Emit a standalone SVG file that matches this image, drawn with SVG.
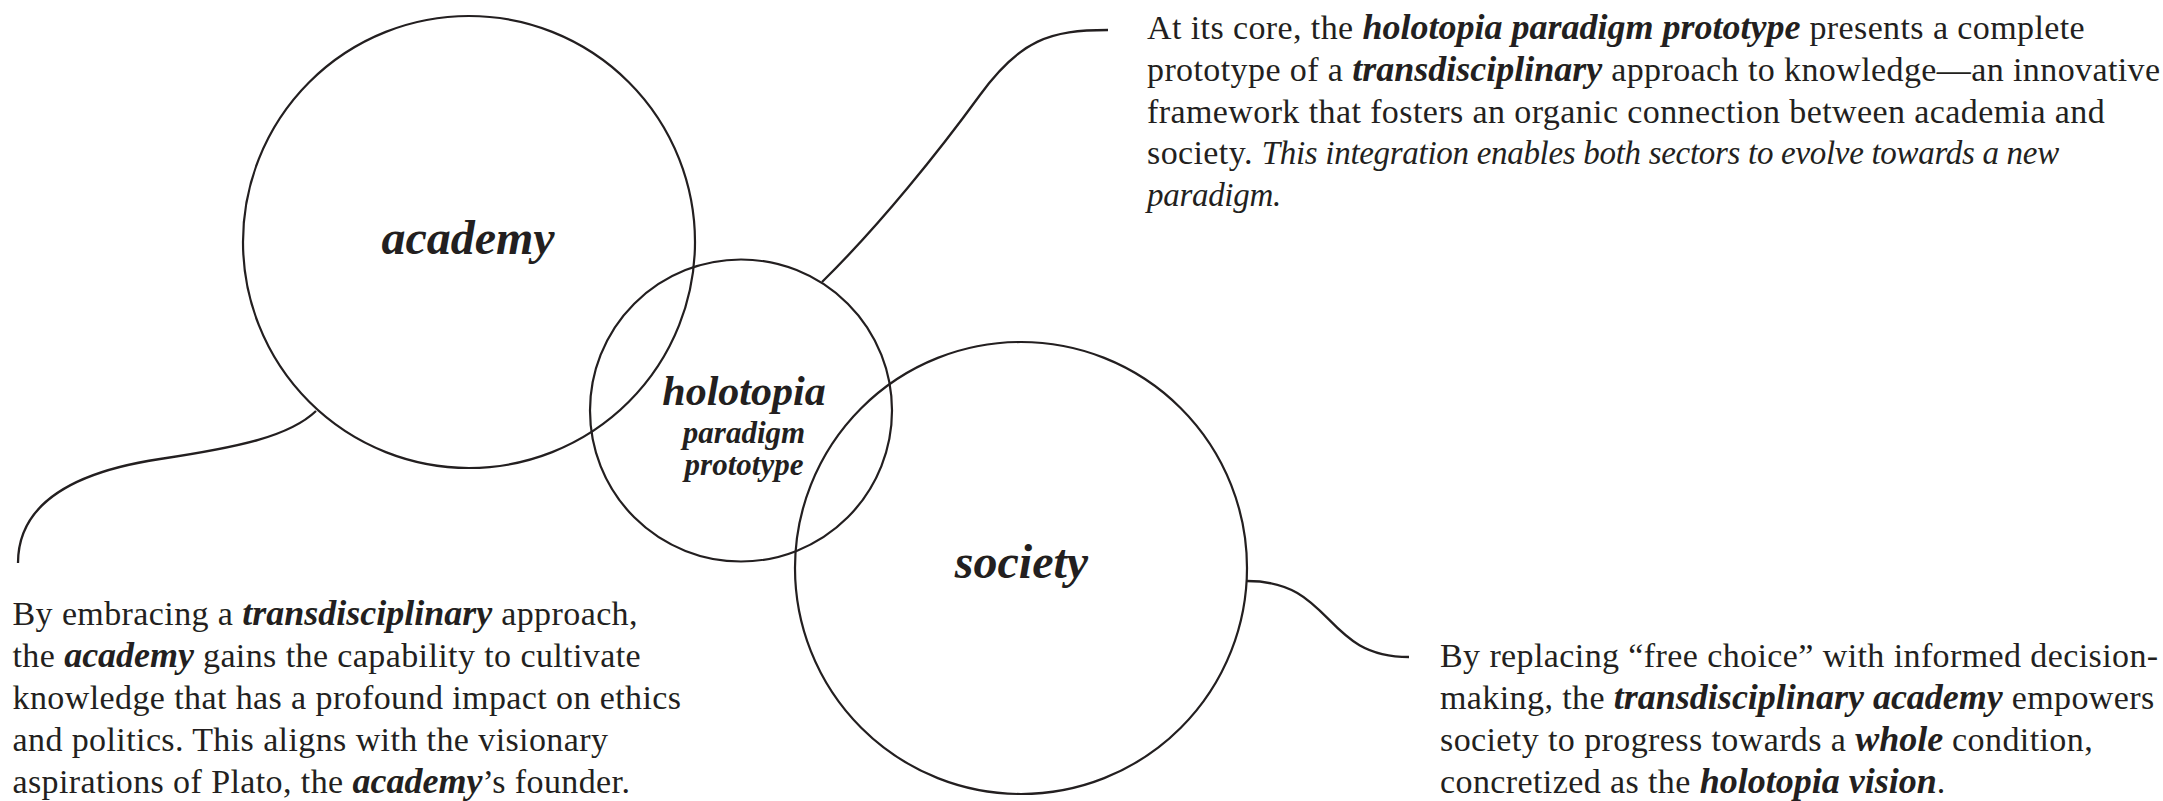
<svg xmlns="http://www.w3.org/2000/svg" width="2163" height="801" viewBox="0 0 2163 801">
  <style>
    .circle { fill: none; stroke: #231f20; stroke-width: 2.2; }
    .conn { fill: none; stroke: #231f20; stroke-width: 2.3; stroke-linecap: butt; }
    .label { font-family: "Liberation Serif", "Times New Roman", serif; font-weight: bold; font-style: italic; fill: #231f20; text-anchor: middle; }
    .body { font-family: "Liberation Serif", "Times New Roman", serif; font-size: 34px; letter-spacing: 0.4px; fill: #231f20; }
    .bi { font-weight: bold; font-style: italic; font-size: 36px; letter-spacing: 0px; }
    .it { font-style: italic; font-size: 33px; letter-spacing: -0.3px; }
  </style>
  <rect x="0" y="0" width="2163" height="801" fill="#ffffff"/>

  <g id="connectors">
    <path class="conn" d="M316,411 C290,436 240,447 160,459 C80,471 18,500 18,563"/>
    <path class="conn" d="M822,282 C880,225 940,150 980,95 C1020,40 1050,30 1108,30"/>
    <path class="conn" d="M1247,581 C1335,581 1322,657 1409,657"/>
  </g>

  <g id="node-academy">
    <circle class="circle" cx="469" cy="242" r="226"/>
    <text class="label" x="468" y="254" font-size="48">academy</text>
  </g>

  <g id="node-holotopia">
    <circle class="circle" cx="741" cy="410.5" r="151"/>
    <text class="label" x="744" y="405" font-size="42">holotopia</text>
    <text class="label" x="744" y="443" font-size="31">paradigm</text>
    <text class="label" x="744" y="474.5" font-size="31">prototype</text>
  </g>

  <g id="node-society">
    <circle class="circle" cx="1021" cy="568" r="226"/>
    <text class="label" x="1021.5" y="577.5" font-size="48">society</text>
  </g>

  <g id="text-holotopia">
    <text class="body" x="1147" y="39">At its core, the <tspan class="bi">holotopia paradigm prototype</tspan> presents a complete</text>
    <text class="body" x="1147" y="81">prototype of a <tspan class="bi">transdisciplinary</tspan> approach to knowledge—an innovative</text>
    <text class="body" x="1147" y="122.5">framework that fosters an organic connection between academia and</text>
    <text class="body" x="1147" y="164">society. <tspan class="it">This integration enables both sectors to evolve towards a new</tspan></text>
    <text class="body" x="1147" y="206"><tspan class="it">paradigm.</tspan></text>
  </g>

  <g id="text-academy">
    <text class="body" x="12.5" y="625">By embracing a <tspan class="bi">transdisciplinary</tspan> approach,</text>
    <text class="body" x="12.5" y="667">the <tspan class="bi">academy</tspan> gains the capability to cultivate</text>
    <text class="body" x="12.5" y="709">knowledge that has a profound impact on ethics</text>
    <text class="body" x="12.5" y="751">and politics. This aligns with the visionary</text>
    <text class="body" x="12.5" y="793">aspirations of Plato, the <tspan class="bi">academy</tspan>’s founder.</text>
  </g>

  <g id="text-society">
    <text class="body" x="1440" y="667">By replacing “free choice” with informed decision-</text>
    <text class="body" x="1440" y="709">making, the <tspan class="bi">transdisciplinary academy</tspan> empowers</text>
    <text class="body" x="1440" y="751">society to progress towards a <tspan class="bi">whole</tspan> condition,</text>
    <text class="body" x="1440" y="793">concretized as the <tspan class="bi">holotopia vision</tspan>.</text>
  </g>
</svg>
